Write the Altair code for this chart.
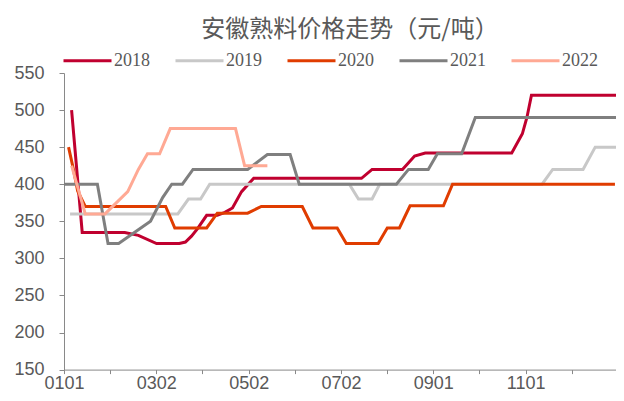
import altair as alt
import pandas as pd

years = ["2018", "2019", "2020", "2021", "2022"]
colors = ["#C0002F", "#C8C8C8", "#E03C00", "#7F7F7F", "#FFA994"]

# x = days since 01-01 (month-day axis shared by all years)
days_2018 = [5, 12, 40, 49, 61, 76, 80, 84, 88, 94, 101, 106, 111, 117, 125, 196, 203, 223, 231, 238, 295, 302, 305, 308, 365]
vals_2018 = [500, 335, 335, 331, 320, 320, 322, 330, 340, 358, 358, 362, 368, 390, 408, 408, 420, 420, 438, 442, 442, 468, 490, 520, 520]

days_2019 = [4, 75, 82, 90, 96, 188, 194, 203, 208, 315, 322, 342, 350, 365]
vals_2019 = [360, 360, 380, 380, 400, 400, 380, 380, 400, 400, 420, 420, 450, 450]

days_2020 = [3, 6, 9, 14, 67, 73, 94, 101, 121, 130, 157, 164, 180, 186, 207, 213, 221, 228, 250, 256, 363]
vals_2020 = [450, 422, 391, 370, 370, 341, 341, 361, 361, 370, 370, 341, 341, 320, 320, 341, 341, 371, 371, 400, 400]

days_2021 = [0, 22, 29, 36, 57, 65, 71, 78, 85, 121, 134, 149, 155, 219, 227, 240, 246, 262, 271, 367]
vals_2021 = [400, 400, 320, 320, 350, 382, 400, 400, 420, 420, 440, 440, 400, 400, 420, 420, 441, 441, 490, 490]

days_2022 = [5, 14, 27, 42, 49, 55, 63, 70, 113, 119, 134]
vals_2022 = [425, 360, 360, 390, 420, 441, 441, 475, 475, 425, 425]

tick_labels = ["0101", "", "0302", "", "0502", "", "0702", "", "0901", "", "1101", "", ""]
month_step = 365 / 12
tick_values = [round(i * month_step, 3) for i in range(len(tick_labels))]
y_ticks = [150, 200, 250, 300, 350, 400, 450, 500, 550]

series = {
    "2018": (days_2018, vals_2018),
    "2019": (days_2019, vals_2019),
    "2020": (days_2020, vals_2020),
    "2021": (days_2021, vals_2021),
    "2022": (days_2022, vals_2022),
}
rows = []
for yr, (ds, vs) in series.items():
    for d, v in zip(ds, vs):
        rows.append({"year": yr, "day": d, "price": v})
df = pd.DataFrame(rows)

label_js = "[" + ",".join("'" + t + "'" for t in tick_labels) + "]"

chart = alt.Chart(df).mark_line(strokeWidth=3, clip=False).encode(
    x=alt.X(
        "day:Q",
        scale=alt.Scale(domain=[0, 363.7], nice=False, zero=False),
        axis=alt.Axis(
            values=tick_values,
            labelExpr=label_js + f"[round(datum.value/{month_step})]",
            title=None, grid=False, tickSize=4, labelPadding=1,
            labelFont="Liberation Sans", labelFontSize=18, labelColor="#595959",
            domainColor="#898989", tickColor="#898989", labelOverlap=False,
            labelFlush=False,
        ),
    ),
    y=alt.Y(
        "price:Q",
        scale=alt.Scale(domain=[150, 550], nice=False, zero=False),
        axis=alt.Axis(
            values=y_ticks, title=None, grid=False, tickSize=5, labelPadding=15,
            labelFont="Liberation Sans", labelFontSize=18, labelColor="#595959",
            domainColor="#898989", tickColor="#898989",
        ),
    ),
    color=alt.Color(
        "year:N",
        scale=alt.Scale(domain=years, range=colors),
        legend=alt.Legend(
            orient="none", legendX=-2, legendY=-38, direction="horizontal",
            title=None, symbolType="stroke", symbolSize=2304, symbolStrokeWidth=3,
            labelFont="Liberation Serif", labelFontSize=18, labelColor="#595959",
            columnPadding=19, labelOffset=1, columns=5,
        ),
    ),
).properties(
    width=552,
    height=296.6,
    title=alt.TitleParams(
        text="安徽熟料价格走势（元/吨）", font="Noto Sans CJK SC", fontSize=24,
        fontWeight="normal", color="#595959", anchor="middle", frame="group",
        dx=10, dy=7, offset=0,
    ),
    autosize=alt.AutoSizeParams(type="none"),
    padding={"left": 56, "top": 65, "right": 0, "bottom": 23.4},
).configure_view(stroke=None)

chart.save("out.html", embed_options={"renderer": "svg", "actions": False})
